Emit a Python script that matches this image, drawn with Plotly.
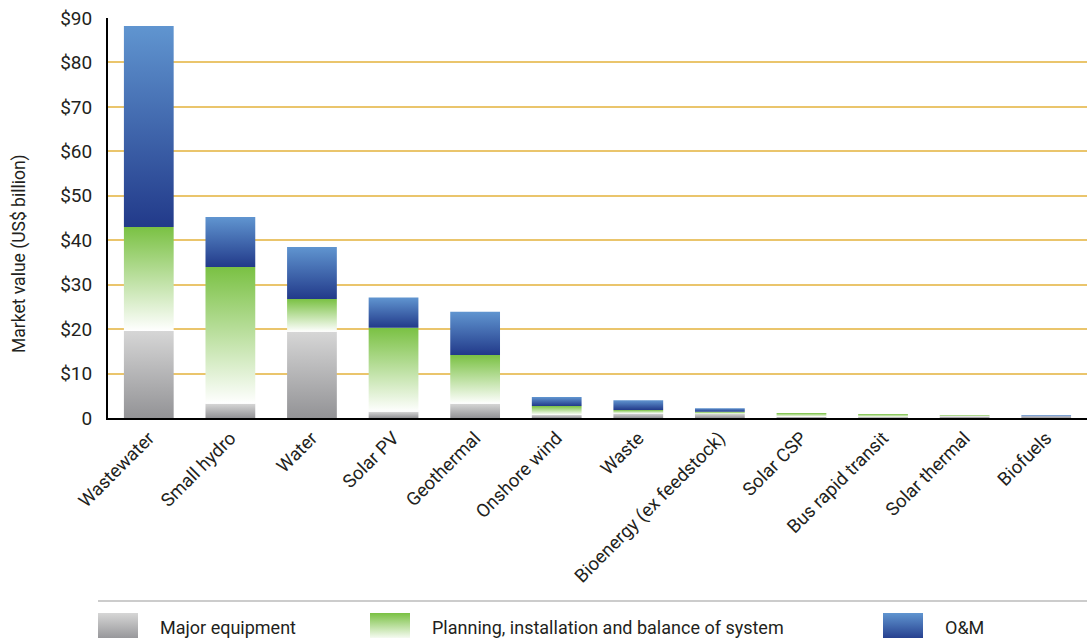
import plotly.graph_objects as go

categories = ["Wastewater", "Small hydro", "Water", "Solar PV", "Geothermal", "Onshore wind",
              "Waste", "Bioenergy (ex feedstock)", "Solar CSP", "Bus rapid transit",
              "Solar thermal", "Biofuels"]
major_equipment = [19.6, 3.2, 19.4, 1.4, 3.2, 0.7, 1.0, 0.9, 0.3, 0.2, 0.4, 0.4]
planning_install = [23.4, 30.8, 7.4, 18.9, 11.0, 2.0, 0.8, 0.5, 0.8, 0.7, 0.2, 0.0]
o_and_m = [45.2, 11.2, 11.7, 6.8, 9.7, 2.0, 2.2, 0.8, 0.0, 0.0, 0.0, 0.2]
series_names = ["Major equipment", "Planning, installation and balance of system", "O&M"]
y_tick_vals = [0, 10, 20, 30, 40, 50, 60, 70, 80, 90]
y_tick_text = ["0", "$10", "$20", "$30", "$40", "$50", "$60", "$70", "$80", "$90"]

# gradient (bottom colour, top colour) per series
gradients = [("#939396", "#d6d6d6"), ("#ffffff", "#7ac143"), ("#223a8a", "#6095d0")]

W, H = 1087, 638
FONT = "Roboto"
TXT = "#231f20"
bar_w = 0.61

fig = go.Figure()
series = [major_equipment, planning_install, o_and_m]
base = [0.0] * len(categories)
for s, vals in enumerate(series):
    bot_c, top_c = gradients[s]
    for i, v in enumerate(vals):
        if v > 0:
            b, t = base[i], base[i] + v
            fig.add_trace(go.Scatter(
                x=[i - bar_w / 2, i + bar_w / 2, i + bar_w / 2, i - bar_w / 2, i - bar_w / 2],
                y=[b, b, t, t, b],
                mode="lines", fill="toself",
                line=dict(width=0, color="rgba(0,0,0,0)"),
                fillgradient=dict(type="vertical", colorscale=[[0, bot_c], [1, top_c]],
                                  start=b, stop=t),
                name=series_names[s], showlegend=False, hoverinfo="skip",
                xaxis="x", yaxis="y"))
            base[i] = t

# custom legend swatches (in a hidden helper subplot measured in pixels)
legend_x = [98, 370, 883]
sw_w = 40
for s in range(3):
    bot_c, top_c = gradients[s]
    x0 = legend_x[s]
    fig.add_trace(go.Scatter(
        x=[x0, x0 + sw_w, x0 + sw_w, x0, x0], y=[-2, -2, 25, 25, -2],
        mode="lines", fill="toself", line=dict(width=0, color="rgba(0,0,0,0)"),
        fillgradient=dict(type="vertical", colorscale=[[0, bot_c], [1, top_c]], start=-2, stop=25),
        showlegend=False, hoverinfo="skip", xaxis="x2", yaxis="y2"))
    fig.add_annotation(x=x0 + sw_w + 20, y=11, xref="x2", yref="y2", text=series_names[s],
                       showarrow=False, xanchor="left", yanchor="middle",
                       font=dict(family=FONT, size=18, color=TXT))

fig.add_shape(type="line", xref="paper", yref="paper", x0=98 / W, x1=1, y0=(H - 601) / H,
              y1=(H - 601) / H, line=dict(color="#cccccc", width=2))

fig.add_annotation(x=20 / W, y=(H - 254) / H, xref="paper", yref="paper",
                   text="Market value (US$ billion)", textangle=-90, showarrow=False,
                   xanchor="center", yanchor="middle",
                   font=dict(family=FONT, size=17.5, color=TXT))

fig.update_layout(
    width=W, height=H, margin=dict(l=0, r=0, t=0, b=0, autoexpand=False),
    paper_bgcolor="white", plot_bgcolor="rgba(0,0,0,0)",
    showlegend=False,
    xaxis=dict(domain=[108 / W, 1], range=[-0.5, 11.5], tickvals=list(range(len(categories))),
               ticktext=categories, tickangle=-45, showgrid=False, zeroline=False,
               showline=True, linecolor="black", linewidth=2, ticks="", automargin=False,
               tickfont=dict(family=FONT, size=18.5, color=TXT), anchor="y"),
    yaxis=dict(domain=[(H - 418) / H, (H - 18) / H], range=[0, 90], tickvals=y_tick_vals,
               ticktext=y_tick_text, showgrid=True, gridcolor="#eac56c", gridwidth=2,
               zeroline=False, showline=True, linecolor="black", linewidth=2, ticks="",
               ticklabelstandoff=10, automargin=False,
               tickfont=dict(family=FONT, size=19, color=TXT), anchor="x"),
    xaxis2=dict(domain=[0, 1], range=[0, W], visible=False, anchor="y2", fixedrange=True),
    yaxis2=dict(domain=[0, 36 / H], range=[0, 36], visible=False, anchor="x2", fixedrange=True),
)

fig.write_html("out.html")
